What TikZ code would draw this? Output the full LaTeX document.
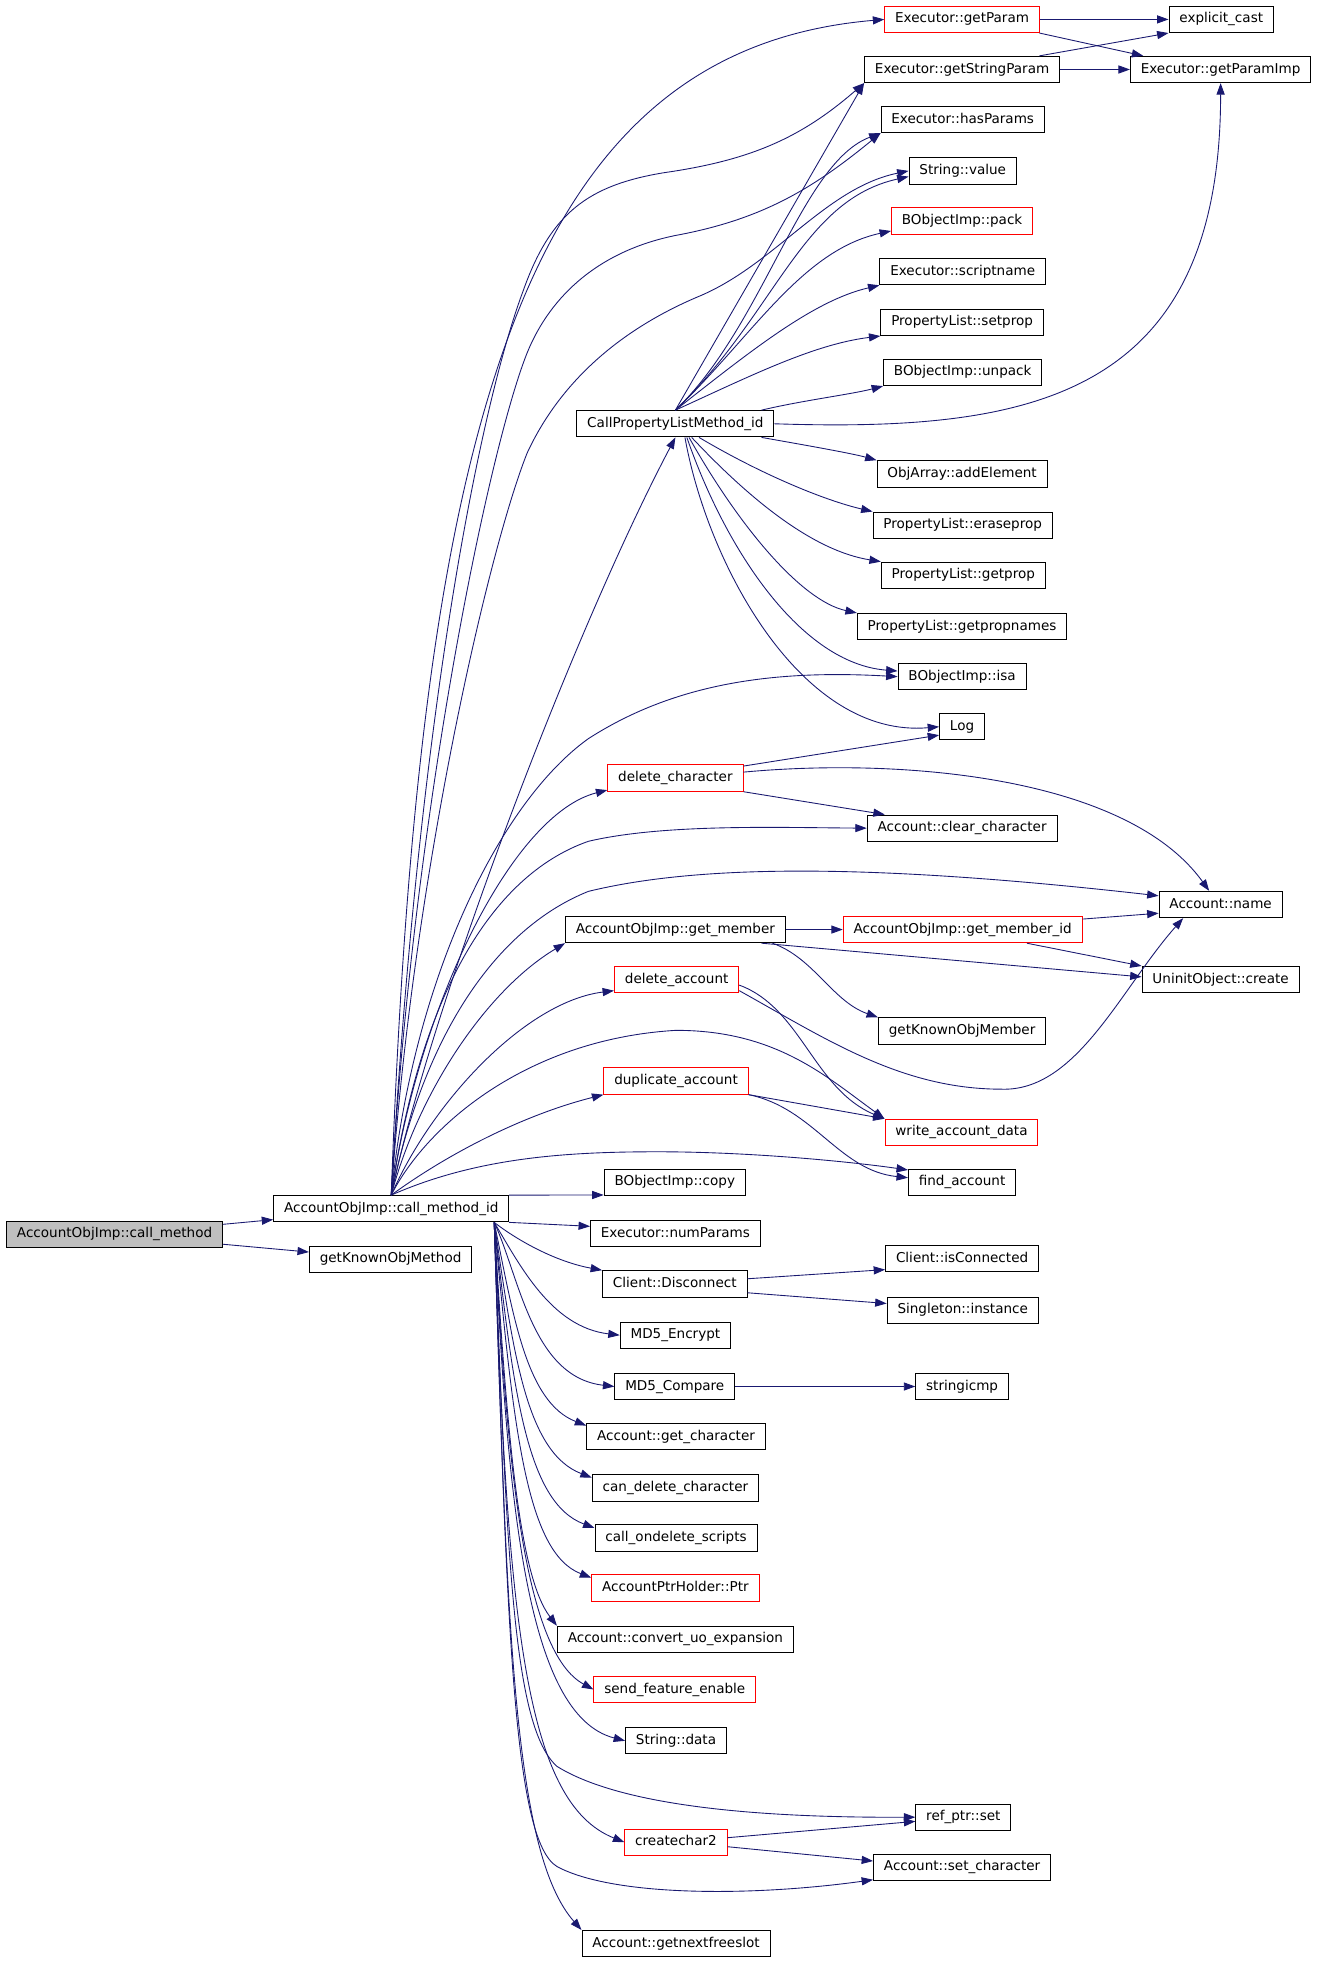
\documentclass[tikz,border=0pt]{standalone}
\usepackage{fontspec}
\setmainfont{DejaVu Sans}
\usepackage{tikz}
\usetikzlibrary{arrows.meta}
\definecolor{edgeblue}{HTML}{191970}
\definecolor{rootgray}{HTML}{BFBFBF}

\begin{document}
\begin{tikzpicture}[x=0.025cm, y=-0.025cm,
  fn/.style={draw=black, line width=0.55pt, fill=white, minimum height=0.525cm,
    inner xsep=5.9pt, inner ysep=0pt, text height=5.6pt, text depth=1.6pt,
    font=\fontsize{7.7}{9}\selectfont},
  fnred/.style={fn, draw=red},
  fnroot/.style={fn, fill=rootgray},
  call/.style={draw=edgeblue, line width=0.5pt, -{Triangle[length=6.5pt,width=4.6pt]}}]
\useasboundingbox (0,0) rectangle (1052,1568);

\node[fnroot] (cm) at (91.5,986) {AccountObjImp::call\_method};
\node[fn] (cmid) at (312.5,965.5) {AccountObjImp::call\_method\_id};
\node[fn] (gkom) at (312,1006) {getKnownObjMethod};
\node[fnred] (gp) at (768.5,15.5) {Executor::getParam};
\node[fn] (ec) at (975.5,15.5) {explicit\_cast};
\node[fn] (gsp) at (768.5,55.5) {Executor::getStringParam};
\node[fn] (gpi) at (975,55.5) {Executor::getParamImp};
\node[fn] (hp) at (769,95.5) {Executor::hasParams};
\node[fn] (sv) at (769,136.5) {String::value};
\node[fnred] (pack) at (768.5,176.5) {BObjectImp::pack};
\node[fn] (sn) at (769,217) {Executor::scriptname};
\node[fn] (setp) at (768.5,257.5) {PropertyList::setprop};
\node[fn] (unpack) at (769,297.5) {BObjectImp::unpack};
\node[fn] (cpl) at (539.5,338.5) {CallPropertyListMethod\_id};
\node[fn] (adde) at (768.5,378.5) {ObjArray::addElement};
\node[fn] (erase) at (769,419.5) {PropertyList::eraseprop};
\node[fn] (getp) at (769.5,459.5) {PropertyList::getprop};
\node[fn] (gpn) at (768.5,500.5) {PropertyList::getpropnames};
\node[fn] (isa) at (768.5,540.5) {BObjectImp::isa};
\node[fn] (logf) at (768.5,580.5) {Log};
\node[fnred] (delc) at (539.5,621.5) {delete\_character};
\node[fn] (clrc) at (768.5,661.5) {Account::clear\_character};
\node[fn] (aname) at (975,722.5) {Account::name};
\node[fn] (gm) at (539.5,742.5) {AccountObjImp::get\_member};
\node[fnred] (gmid) at (769,742.5) {AccountObjImp::get\_member\_id};
\node[fn] (uoc) at (975,782.5) {UninitObject::create};
\node[fnred] (dela) at (540.5,782.5) {delete\_account};
\node[fn] (gkm) at (768.5,823.5) {getKnownObjMember};
\node[fnred] (dupa) at (540,863.5) {duplicate\_account};
\node[fnred] (wad) at (768,904.5) {write\_account\_data};
\node[fn] (fa) at (768.5,944.5) {find\_account};
\node[fn] (copy) at (539,944.5) {BObjectImp::copy};
\node[fn] (np) at (539.5,985.5) {Executor::numParams};
\node[fn] (disc) at (539,1025.5) {Client::Disconnect};
\node[fn] (isc) at (768.5,1005.5) {Client::isConnected};
\node[fn] (sing) at (769,1046.5) {Singleton::instance};
\node[fn] (md5e) at (539.5,1066.5) {MD5\_Encrypt};
\node[fn] (md5c) at (539,1107.5) {MD5\_Compare};
\node[fn] (sicmp) at (768.5,1107.5) {stringicmp};
\node[fn] (getc) at (540,1147.5) {Account::get\_character};
\node[fn] (cdc) at (539.5,1188.5) {can\_delete\_character};
\node[fn] (ondel) at (540,1228.5) {call\_ondelete\_scripts};
\node[fnred] (ptr) at (539.5,1268.5) {AccountPtrHolder::Ptr};
\node[fn] (cuo) at (539.5,1309.5) {Account::convert\_uo\_expansion};
\node[fnred] (sfe) at (539,1349.5) {send\_feature\_enable};
\node[fn] (sdata) at (540,1390.5) {String::data};
\node[fn] (rps) at (769.5,1451.5) {ref\_ptr::set};
\node[fnred] (cc2) at (540,1471.5) {createchar2};
\node[fn] (setc) at (768.5,1491.5) {Account::set\_character};
\node[fn] (gnfs) at (540,1552.5) {Account::getnextfreeslot};

\draw[call] (cm) -- (cmid);
\draw[call] (cm) -- (gkom);
\draw[call] (cmid.north) .. controls (335,330) and (420,40) .. (gp.west);
\draw[call] (cmid.north) .. controls (335,560) and (385,320) .. (418,232) .. controls (440,170) and (470,148) .. (530,138) .. controls (600,128) and (640,110) .. (gsp.south west);
\draw[call] (cmid.north) .. controls (330,650) and (390,360) .. (421,282) .. controls (440,235) and (480,200) .. (540,188) .. controls (610,175) and (650,150) .. (hp.south west);
\draw[call] (cmid.north) .. controls (330,700) and (390,440) .. (421,362) .. controls (445,310) and (490,265) .. (560,236) .. controls (620,210) and (660,150) .. (sv.west);
\draw[call] (cmid.north) .. controls (345,800) and (460,500) .. (cpl.south);
\draw[call] (cmid.north) .. controls (330,780) and (400,640) .. (470,590) .. controls (540,545) and (620,535) .. (isa.west);
\draw[call] (cmid.north) .. controls (335,800) and (410,650) .. (delc.190);
\draw[call] (cmid.north) .. controls (335,800) and (390,700) .. (470,672) .. controls (530,658) and (620,661) .. (clrc.west);
\draw[call] (cmid.north) .. controls (340,820) and (400,740) .. (470,712) .. controls (560,690) and (700,690) .. (aname.172);
\draw[call] (cmid.north) .. controls (335,870) and (390,790) .. (gm.south west);
\draw[call] (cmid.north) .. controls (345,880) and (420,800) .. (dela.190);
\draw[call] (cmid.north) .. controls (340,900) and (420,830) .. (540,823) .. controls (620,823) and (660,860) .. (wad.north west);
\draw[call] (cmid.north) .. controls (360,920) and (420,890) .. (dupa.south west);
\draw[call] (cmid.north) .. controls (380,925) and (450,920) .. (525,920) .. controls (600,920) and (680,928) .. (fa.167);
\draw[call] (cmid.north east) -- (copy.190);
\draw[call] (cmid.south east) -- (np.175);
\draw[call] ([xshift=-0.3cm]cmid.south east) .. controls (415,992) and (445,1008) .. (disc.north west);
\draw[call] ([xshift=-0.3cm]cmid.south east) .. controls (415,1010) and (440,1060) .. (md5e.west);
\draw[call] ([xshift=-0.3cm]cmid.south east) .. controls (415,1020) and (425,1100) .. (md5c.west);
\draw[call] ([xshift=-0.3cm]cmid.south east) .. controls (410,1050) and (420,1120) .. (getc.173);
\draw[call] ([xshift=-0.3cm]cmid.south east) .. controls (410,1080) and (420,1160) .. (cdc.173);
\draw[call] ([xshift=-0.3cm]cmid.south east) .. controls (410,1110) and (420,1200) .. (ondel.173);
\draw[call] ([xshift=-0.3cm]cmid.south east) .. controls (410,1140) and (420,1240) .. (ptr.173);
\draw[call] ([xshift=-0.3cm]cmid.south east) .. controls (405,1150) and (415,1260) .. (cuo.north west);
\draw[call] ([xshift=-0.3cm]cmid.south east) .. controls (405,1180) and (420,1320) .. (sfe.west);
\draw[call] ([xshift=-0.3cm]cmid.south east) .. controls (405,1200) and (420,1370) .. (sdata.west);
\draw[call] ([xshift=-0.3cm]cmid.south east) .. controls (405,1250) and (410,1380) .. (445,1411) .. controls (500,1445) and (620,1452) .. (rps.west);
\draw[call] ([xshift=-0.3cm]cmid.south east) .. controls (405,1300) and (420,1440) .. (cc2.west);
\draw[call] ([xshift=-0.3cm]cmid.south east) .. controls (405,1300) and (410,1470) .. (445,1491) .. controls (490,1515) and (600,1515) .. (setc.188);
\draw[call] ([xshift=-0.3cm]cmid.south east) .. controls (405,1300) and (410,1480) .. (gnfs.north west);
\draw[call] (cpl.north) -- (gsp.south west);
\draw[call] (cpl.north) .. controls (610,260) and (640,130) .. (hp.south west);
\draw[call] (cpl.north) .. controls (620,250) and (640,160) .. (sv.186);
\draw[call] (cpl.north) .. controls (600,270) and (640,200) .. (pack.188);
\draw[call] (cpl.north) .. controls (600,280) and (650,240) .. (sn.south west);
\draw[call] (cpl.north) .. controls (600,300) and (650,275) .. (setp.south west);
\draw[call] (cpl.9) .. controls (640,320) and (680,315) .. (unpack.south west);
\draw[call] (cpl.east) .. controls (820,345) and (975,320) .. (gpi.south);
\draw[call] (cpl.-9) .. controls (640,355) and (680,362) .. (adde.north west);
\draw[call] (cpl.-30) .. controls (610,380) and (660,400) .. (erase.north west);
\draw[call] (cpl.-40) .. controls (600,400) and (650,440) .. (getp.north west);
\draw[call] (cpl.-45) .. controls (590,420) and (640,480) .. (gpn.north west);
\draw[call] (cpl.-50) .. controls (580,440) and (640,530) .. (isa.175);
\draw[call] (cpl.-55) .. controls (565,450) and (640,590) .. (logf.west);
\draw[call] (gp.east) -- (ec.west);
\draw[call] (gp.-10) -- (gpi.170);
\draw[call] (gsp.10) -- (ec.south west);
\draw[call] (gsp.east) -- (gpi.west);
\draw[call] (delc.10) -- (logf.200);
\draw[call] (delc.south east) -- (clrc.170);
\draw[call] (delc.5) .. controls (720,605) and (900,620) .. (aname.130);
\draw[call] (gm.east) -- (gmid.west);
\draw[call] (gm.-9) -- (uoc.178);
\draw[call] (gm.-8) .. controls (650,765) and (665,800) .. (gkm.north west);
\draw[call] (gmid.5) -- (aname.188);
\draw[call] (gmid.-12) -- (uoc.north west);
\draw[call] (dela.-5) .. controls (640,805) and (650,870) .. (wad.north west);
\draw[call] (dela.-10) .. controls (660,830) and (720,870) .. (800,870) .. controls (860,872) and (895,790) .. (aname.200);
\draw[call] (dupa.south east) -- (wad.north west);
\draw[call] (dupa.south east) .. controls (650,885) and (670,935) .. (fa.175);
\draw[call] (disc.4) -- (isc.188);
\draw[call] (disc.-7) -- (sing.175);
\draw[call] (md5c.east) -- (sicmp.west);
\draw[call] (cc2.5) -- (rps.185);
\draw[call] (cc2.-5) -- (setc.176);
\end{tikzpicture}
\end{document}
